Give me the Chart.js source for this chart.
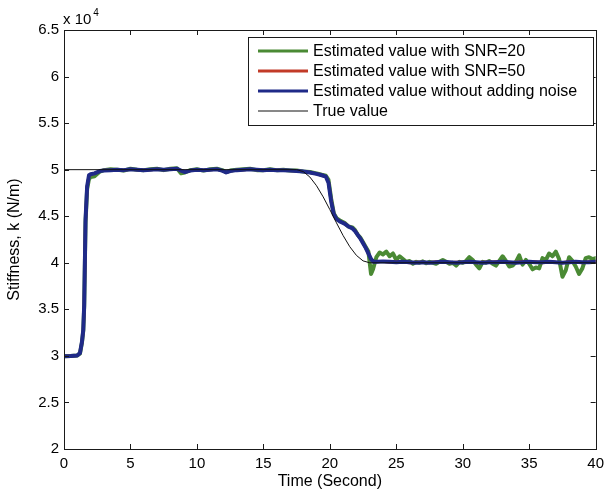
<!DOCTYPE html>
<html>
<head>
<meta charset="utf-8">
<title>Stiffness estimate</title>
<script src="https://cdn.jsdelivr.net/npm/chart.js@4.4.0/dist/chart.umd.min.js"></script>
<style>
  body { margin: 0; background: #fff; }
  canvas { display: block; }
</style>
</head>
<body>
<canvas id="stiffnessChart" width="610" height="495"></canvas>
<script>
// time axis (s) and stiffness values (N/m)
const trueTime = [0, 17.5, 18, 18.5, 19, 19.5, 20, 20.5, 21, 21.5, 22, 22.5, 23, 40];
const trueValue = [50000, 50000, 49797, 49206, 48274, 47077, 45712, 44288, 42923, 41726, 40794, 40203, 40000, 40000];

const estTime = [
  0, 0.5, 1.0, 1.2, 1.35, 1.45, 1.52, 1.62, 1.74, 1.88,
  2.0, 2.3, 2.7, 3, 3.5, 4, 4.5, 5, 5.5, 6,
  6.5, 7, 7.5, 8, 8.5, 8.8, 9.1, 9.5, 10, 10.5,
  11, 11.5, 11.9, 12.2, 12.5, 13, 13.5, 14, 14.5, 15,
  15.5, 16, 16.5, 17, 17.5, 18, 18.5, 19, 19.4, 19.7,
  19.9, 20.1, 20.3, 20.5, 20.8, 21.1, 21.4, 21.7, 21.9, 22.1,
  22.3, 22.5, 22.7, 22.9, 23.1, 23.3, 23.6, 24, 24.5, 25,
  25.5, 26, 26.5, 27, 27.5, 28, 28.5, 29, 29.5, 30,
  30.5, 31, 31.5, 32, 32.5, 33, 33.5, 34, 34.5, 35,
  35.5, 36, 36.5, 37, 37.5, 38, 38.5, 39, 39.5, 40
];
const noNoiseValue = [
  29950, 29980, 30050, 30300, 31500, 32800, 35500, 44600, 48200, 49400,
  49500, 49600, 49850, 49900, 49950, 50000, 49950, 50050, 50000, 49950,
  50000, 50050, 50000, 50050, 50100, 49900, 49750, 49900, 50000, 49950,
  50000, 50050, 49900, 49700, 49850, 49950, 50000, 50050, 50000, 49950,
  50000, 49950, 49950, 49900, 49850, 49800, 49700, 49550, 49400, 49250,
  48600, 46600, 45200, 44700, 44400, 44200, 43900, 43700, 43400, 43000,
  42600, 42100, 41600, 41000, 40400, 40100, 40100, 40150, 40100, 40050,
  40100, 40050, 40000, 40050, 40000, 40050, 40100, 40050, 40000, 40050,
  40100, 40050, 40000, 40050, 40050, 40100, 40050, 40000, 40050, 40100,
  40050, 40050, 40100, 40050, 40000, 40050, 40100, 40050, 40050, 40100
];
const snr50Value = [
  29950, 29990, 30050, 30300, 31450, 32750, 35400, 44500, 48150, 49350,
  49450, 49600, 49850, 49950, 49950, 50000, 49950, 50050, 50000, 49950,
  50000, 50050, 50000, 50050, 50100, 49850, 49750, 49900, 50000, 49950,
  50000, 50050, 49900, 49700, 49850, 49950, 50000, 50050, 50000, 49950,
  50000, 49950, 49950, 49900, 49850, 49800, 49700, 49550, 49400, 49250,
  48650, 46700, 45250, 44700, 44400, 44250, 43900, 43700, 43450, 43000,
  42600, 42150, 41600, 41000, 40450, 40100, 40150, 40150, 40050, 40100,
  40100, 40000, 40050, 40050, 40000, 40100, 40100, 40000, 40050, 40050,
  40150, 40000, 40050, 40050, 40100, 40100, 40000, 40050, 40100, 40050,
  40100, 40000, 40150, 40050, 40000, 40100, 40100, 40000, 40100, 40150
];

const snr20Time = [
  0, 0.5, 1.0, 1.2, 1.35, 1.45, 1.52, 1.62, 1.74, 1.88,
  2.0, 2.3, 2.7, 3, 3.5, 4, 4.5, 5, 5.5, 6,
  6.5, 7, 7.5, 8, 8.5, 8.8, 9.1, 9.5, 10, 10.5,
  11, 11.5, 11.9, 12.2, 12.5, 13, 13.5, 14, 14.5, 15,
  15.5, 16, 16.5, 17, 17.5, 18, 18.5, 19, 19.4, 19.7,
  19.9, 20.1, 20.3, 20.5, 20.8, 21.1, 21.4, 21.7, 21.9, 22.1,
  22.3, 22.5, 22.7, 22.9, 23.1, 23.25, 23.5, 23.75, 24, 24.25,
  24.5, 24.75, 25, 25.25, 25.5, 25.75, 26, 26.25, 26.5, 26.75,
  27, 27.25, 27.5, 27.75, 28, 28.25, 28.5, 28.75, 29, 29.25,
  29.5, 29.75, 30, 30.25, 30.5, 30.75, 31, 31.25, 31.5, 31.75,
  32, 32.25, 32.5, 32.75, 33, 33.25, 33.5, 33.75, 34, 34.25,
  34.5, 34.75, 35, 35.25, 35.5, 35.75, 36, 36.25, 36.5, 36.75,
  37, 37.25, 37.5, 37.75, 38, 38.25, 38.5, 38.75, 39, 39.25,
  39.5, 39.75, 40
];
const snr20Value = [
  29950, 30000, 30050, 30250, 31400, 32700, 35300, 44300, 47900, 49000,
  49200, 49300, 49800, 49950, 50050, 50000, 49900, 50100, 50000, 49950,
  50050, 50100, 49950, 50100, 50150, 49600, 49700, 49950, 50050, 49900,
  50050, 50100, 49950, 49750, 49900, 50000, 50050, 50100, 49950, 49950,
  50050, 49950, 50000, 49900, 49900, 49800, 49750, 49600, 49450, 49350,
  48900, 46900, 45300, 44800, 44500, 44300, 43900, 43800, 43500, 43000,
  42700, 42200, 41700, 41200, 38800, 39300, 40600, 41100, 40900, 41200,
  40700, 41000, 40300, 40700, 40400, 40100, 40200, 39900, 40100, 40000,
  40150, 39950, 40100, 40000, 39900, 40100, 40300, 40100, 39900, 40000,
  39700, 40100, 40000, 40200, 40600, 40300, 39800, 39400, 40100, 40000,
  40200, 39900, 39700, 40200, 40700, 40200, 39600, 39700, 40100, 40800,
  39800, 40300, 39900, 39300, 39500, 39400, 40500, 40300, 41000, 40700,
  41200, 40400, 38500, 39200, 40600, 40200, 39600, 38800, 39400, 40500,
  40600, 40400, 40500
];

const legendLabels = [
  'Estimated value with SNR=20',
  'Estimated value with SNR=50',
  'Estimated value without adding noise',
  'True value'
];

const FONT = '"Liberation Sans", Arial, Helvetica, sans-serif';
const INK = '#000';

function toPoints(xs, ys) {
  return xs.map((x, i) => ({ x: x, y: ys[i] }));
}

// boxed axes with inward ticks on all four sides, exponent note and legend box
const matlabFrame = {
  id: 'matlabFrame',
  afterDraw(chart) {
    const ctx = chart.ctx;
    const a = chart.chartArea;
    const xs = chart.scales.x;
    const ys = chart.scales.y;
    const tick = 5;
    ctx.save();
    ctx.strokeStyle = '#1a1a1a';
    ctx.lineWidth = 1;
    ctx.strokeRect(Math.round(a.left) + 0.5, Math.round(a.top) + 0.5,
      Math.round(a.right - a.left), Math.round(a.bottom - a.top));
    ctx.beginPath();
    xs.ticks.forEach(t => {
      const px = Math.round(xs.getPixelForValue(t.value)) + 0.5;
      ctx.moveTo(px, a.bottom); ctx.lineTo(px, a.bottom - tick);
      ctx.moveTo(px, a.top); ctx.lineTo(px, a.top + tick);
    });
    ys.ticks.forEach(t => {
      const py = Math.round(ys.getPixelForValue(t.value)) + 0.5;
      ctx.moveTo(a.left, py); ctx.lineTo(a.left + tick, py);
      ctx.moveTo(a.right, py); ctx.lineTo(a.right - tick, py);
    });
    ctx.stroke();

    // exponent above the y axis
    ctx.fillStyle = INK;
    ctx.textBaseline = 'alphabetic';
    ctx.textAlign = 'left';
    ctx.font = '15px ' + FONT;
    ctx.fillText('x 10', a.left - 1, 24);
    const w = ctx.measureText('x 10').width;
    ctx.font = '10px ' + FONT;
    ctx.fillText('4', a.left + w + 1, 16);

    // legend
    const box = { x: 248.5, y: 37.5, w: 345, h: 88 };
    ctx.fillStyle = '#fff';
    ctx.fillRect(box.x, box.y, box.w, box.h);
    ctx.strokeStyle = '#1a1a1a';
    ctx.strokeRect(box.x, box.y, box.w, box.h);
    const order = [3, 2, 1, 0];
    ctx.font = '16px ' + FONT;
    ctx.textBaseline = 'middle';
    order.forEach((di, row) => {
      const ds = chart.data.datasets[di];
      const cy = 51 + row * 20;
      ctx.strokeStyle = ds.borderColor;
      ctx.lineWidth = ds.borderWidth > 2 ? 3 : 1;
      ctx.beginPath();
      ctx.moveTo(258, cy);
      ctx.lineTo(308, cy);
      ctx.stroke();
      ctx.fillStyle = INK;
      ctx.fillText(ds.label, 313, cy + 1);
    });
    ctx.restore();
  }
};

new Chart(document.getElementById('stiffnessChart'), {
  type: 'line',
  data: {
    datasets: [
      { label: legendLabels[3], data: toPoints(trueTime, trueValue),
        borderColor: '#111', borderWidth: 1, order: 0 },
      { label: legendLabels[2], data: toPoints(estTime, noNoiseValue),
        borderColor: '#1f2a88', borderWidth: 4, order: 1 },
      { label: legendLabels[1], data: toPoints(estTime, snr50Value),
        borderColor: '#c23b28', borderWidth: 3, order: 2 },
      { label: legendLabels[0], data: toPoints(snr20Time, snr20Value),
        borderColor: '#4a8a34', borderWidth: 4, order: 3 }
    ]
  },
  options: {
    responsive: false,
    animation: false,
    elements: {
      point: { radius: 0 },
      line: { tension: 0, borderJoinStyle: 'round', borderCapStyle: 'round' }
    },
    layout: { padding: { top: 30, right: 10, left: 0, bottom: 0 } },
    plugins: { legend: { display: false }, tooltip: { enabled: false } },
    scales: {
      x: {
        type: 'linear',
        min: 0, max: 40,
        grid: { display: false, drawTicks: false },
        border: { display: false },
        ticks: { stepSize: 5, padding: 6, color: INK, font: { family: FONT, size: 15 }, maxRotation: 0 },
        title: { display: true, text: 'Time (Second)', color: INK,
          font: { family: FONT, size: 16 }, padding: { top: 0, bottom: 4 } },
        afterFit(scale) { scale.height = 46; }
      },
      y: {
        type: 'linear',
        min: 20000, max: 65000,
        grid: { display: false, drawTicks: false },
        border: { display: false },
        ticks: { stepSize: 5000, padding: 5, color: INK, font: { family: FONT, size: 15 },
          callback: v => String(v / 10000) },
        title: { display: true, text: 'Stiffness, k (N/m)', color: INK,
          font: { family: FONT, size: 16 }, padding: { top: 5, bottom: 0 } },
        afterFit(scale) { scale.width = 64; }
      }
    }
  },
  plugins: [matlabFrame]
});
</script>
</body>
</html>
